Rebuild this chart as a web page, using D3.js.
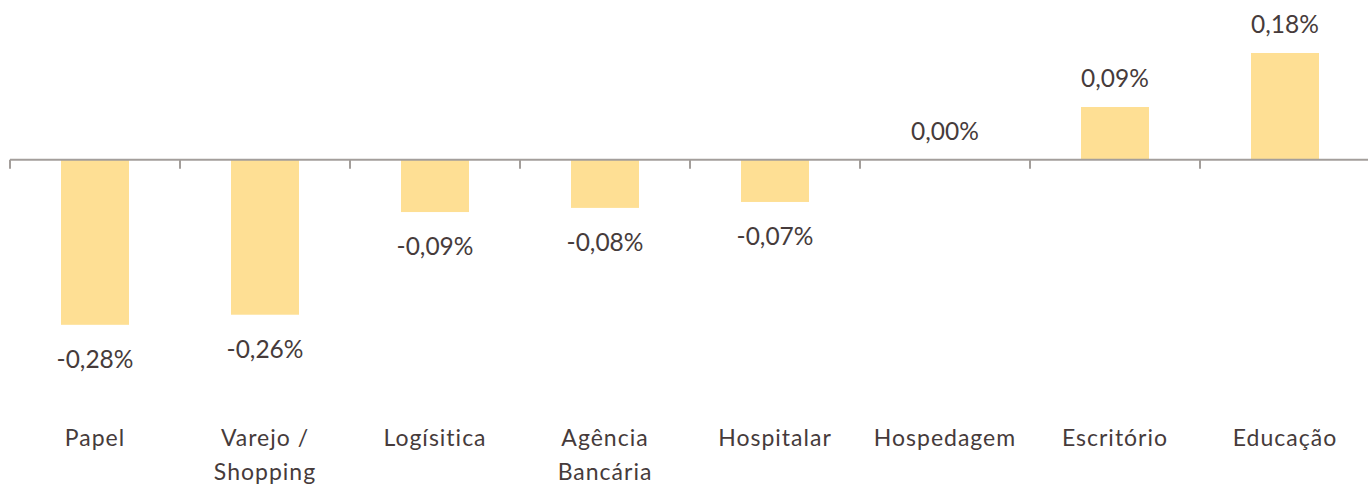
<!DOCTYPE html>
<html>
<head>
<meta charset="utf-8">
<script src="https://cdn.jsdelivr.net/npm/d3@7"></script>
<style>
  html, body { margin: 0; padding: 0; background: #fff; }
  #graph { width: 1368px; height: 484px; }
  text { font-family: Lato, "Open Sans", sans-serif; fill: #463b3b; }
</style>
</head>
<body>
<div id="graph"></div>
<script>
/* dados do gráfico */
const categories = ["Papel", "Varejo / Shopping", "Logísitica", "Agência Bancária", "Hospitalar", "Hospedagem", "Escritório", "Educação"];
const labelLines = [["Papel"], ["Varejo /", "Shopping"], ["Logísitica"], ["Agência", "Bancária"], ["Hospitalar"], ["Hospedagem"], ["Escritório"], ["Educação"]];
const values = [-0.278, -0.261, -0.088, -0.081, -0.071, 0.0, 0.089, 0.18];
const valueLabels = ["-0,28%", "-0,26%", "-0,09%", "-0,08%", "-0,07%", "0,00%", "0,09%", "0,18%"];

window.addEventListener("DOMContentLoaded", main)

function main() {
    const W = 1368, H = 484;
    const svg = d3.select("#graph").append("svg").attr("width", W).attr("height", H)

    const x = d3.scaleBand().domain(categories).range([10, 1370]).paddingInner(0.6).paddingOuter(0.3)
    const y = d3.scaleLinear().domain([-0.28, 0.18]).range([326, 53])

    // bars
    svg.selectAll("rect.bar")
        .data(values)
        .enter()
        .append("rect")
        .attr("class", "bar")
        .attr("x", (d, i) => x(categories[i]))
        .attr("y", d => y(Math.max(d, 0)))
        .attr("width", x.bandwidth())
        .attr("height", d => Math.abs(y(d) - y(0)))
        .style("fill", "#fedf94")

    // eixo na linha do zero
    const step = x.step()
    const ticks = d3.range(categories.length + 1).map(i => 10 + i * step)
    const axis = svg.append("g")
    axis.append("line")
        .attr("x1", 10).attr("x2", 1370)
        .attr("y1", y(0)).attr("y2", y(0))
        .attr("stroke", "#a39e9b").attr("stroke-width", 2)
    axis.selectAll("line.tick")
        .data(ticks)
        .enter()
        .append("line")
        .attr("class", "tick")
        .attr("x1", d => d).attr("x2", d => d)
        .attr("y1", y(0)).attr("y2", y(0) + 9)
        .attr("stroke", "#a39e9b").attr("stroke-width", 2)

    // rótulos de valor
    svg.selectAll("text.val")
        .data(values)
        .enter()
        .append("text")
        .attr("class", "val")
        .attr("x", (d, i) => x(categories[i]) + x.bandwidth() / 2)
        .attr("y", d => d < 0 ? y(d) + 43 : y(d) - 20)
        .attr("text-anchor", "middle")
        .style("font-size", "24.5px")
        .text((d, i) => valueLabels[i])

    // rótulos das categorias
    const cat = svg.selectAll("text.cat")
        .data(labelLines)
        .enter()
        .append("text")
        .attr("class", "cat")
        .attr("text-anchor", "middle")
        .style("font-size", "23px")
        .style("letter-spacing", "1px")
    cat.selectAll("tspan")
        .data((d, i) => d.map(t => ({ t: t, i: i })))
        .enter()
        .append("tspan")
        .attr("x", d => x(categories[d.i]) + x.bandwidth() / 2)
        .attr("y", (d, j) => 446 + j * 34)
        .text(d => d.t)
}
</script>
</body>
</html>
